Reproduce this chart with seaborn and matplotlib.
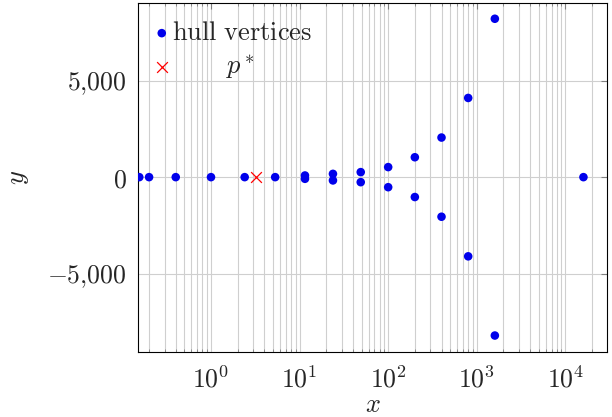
import matplotlib
matplotlib.use("Agg")
import matplotlib.pyplot as plt
import matplotlib.ticker as mticker
import numpy as np
import pandas as pd
import seaborn as sns

# ---- data ----
hull_x = [0.155, 0.2, 0.4, 1.0, 2.4, 5.3, 11.5, 11.5, 23.8, 23.8, 49, 49,
          100, 100, 200, 200, 400, 400, 800, 800, 1600, 1600, 16000]
hull_y = [0, 0, 0, 0, 0, 0, 86, -86, 170, -170, 260, -260,
          520, -520, 1030, -1030, 2050, -2050, 4100, -4100, 8200, -8200, 0]
pstar_x = [3.2]
pstar_y = [0]
y_ticks = [-5000, 0, 5000]
x_ticks = [1, 10, 100, 1000, 10000]

sns.set_style("white")
plt.rcParams["mathtext.fontset"] = "cm"
plt.rcParams["font.family"] = ["DejaVu Serif"]

hull = pd.DataFrame({"x": hull_x, "y": hull_y})
pstar = pd.DataFrame({"x": pstar_x, "y": pstar_y})

fig = plt.figure(figsize=(6.12, 4.17), dpi=100)
ax = fig.add_axes([0.2255, 0.156, 0.9918 - 0.2255, 0.993 - 0.156])
ax.set_xscale("log")

sns.scatterplot(data=hull, x="x", y="y", ax=ax, color=(0, 0, 0.92), s=38,
                edgecolor="none", label=r"$\mathrm{hull\ vertices}$", zorder=3)
sns.scatterplot(data=pstar, x="x", y="y", ax=ax, color=(1, 0, 0), marker="x",
                s=60, linewidth=0.9, label=r"$\qquad\ p^*$", zorder=3)

ax.set_xlim(0.15, 29500)
ax.set_ylim(-9050, 9020)

ax.xaxis.set_major_locator(mticker.FixedLocator(x_ticks))
ax.xaxis.set_minor_locator(mticker.LogLocator(base=10, subs=np.arange(2, 10), numticks=20))
ax.xaxis.set_major_formatter(mticker.FuncFormatter(
    lambda v, p: r"$10^{%d}$" % int(round(np.log10(v)))))
ax.xaxis.set_minor_formatter(mticker.NullFormatter())

ax.yaxis.set_major_locator(mticker.FixedLocator(y_ticks))
def yfmt(v, p):
    s = "{:,}".format(int(abs(v))).replace(",", "{,}")
    return r"$-%s$" % s if v < 0 else r"$%s$" % s
ax.yaxis.set_major_formatter(mticker.FuncFormatter(yfmt))

ax.grid(True, which="both", axis="x", color="#cfcfcf", linewidth=0.8)
ax.grid(True, which="major", axis="y", color="#cfcfcf", linewidth=0.8)
ax.set_axisbelow(True)

ax.tick_params(axis="both", which="major", direction="in", length=4, width=0.8,
               color="#808080", top=True, right=True, labelsize=18.5, pad=8)
ax.tick_params(axis="x", which="major", pad=10)
ax.tick_params(axis="x", which="minor", direction="in", length=2.5, width=0.6,
               color="#808080", top=True, bottom=True)

for sp in ax.spines.values():
    sp.set_color("black")
    sp.set_linewidth(0.8)

ax.set_xlabel(r"$x$", fontsize=19, labelpad=0)
ax.set_ylabel(r"$y$", fontsize=19, labelpad=12)

leg = ax.legend(loc="upper left", frameon=False, fontsize=19, handlelength=0.5,
                handletextpad=0.15, labelspacing=0.3, borderaxespad=0.3,
                borderpad=0.35, markerscale=1.0)

fig.savefig("out.png", dpi=100)
